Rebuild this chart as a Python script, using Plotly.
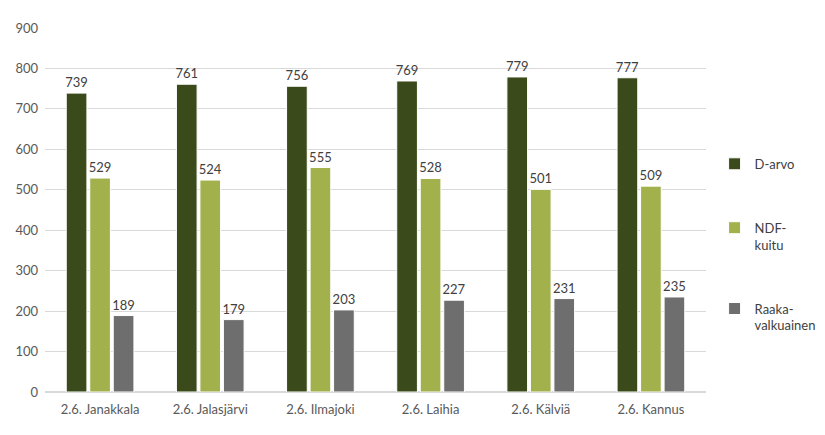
import plotly.graph_objects as go

categories = ["2.6. Janakkala", "2.6. Jalasjärvi", "2.6. Ilmajoki", "2.6. Laihia", "2.6. Kälviä", "2.6. Kannus"]
d_arvo = [739, 761, 756, 769, 779, 777]
ndf_kuitu = [529, 524, 555, 528, 501, 509]
raakavalkuainen = [189, 179, 203, 227, 231, 235]
series_names = ["D-arvo", "NDF-<br>kuitu", "Raaka-<br>valkuainen"]
colors = ["#3B4A1B", "#A3B14D", "#6E6E6E"]

fig = go.Figure()
for i, (name, vals) in enumerate(zip(series_names, [d_arvo, ndf_kuitu, raakavalkuainen])):
    fig.add_trace(go.Bar(
        x=categories, y=vals, name=name,
        marker=dict(color=colors[i], line=dict(color="white", width=1)),
        text=vals, textposition="outside", constraintext="none",
        textfont=dict(size=13, color="#404040"),
        legendgroup=str(i), cliponaxis=False,
    ))

fig.update_layout(
    width=825, height=435,
    margin=dict(l=37, r=119, t=20, b=51),
    paper_bgcolor="white", plot_bgcolor="white",
    font=dict(family="Lato, Open Sans, sans-serif", color="#595959", size=13),
    barmode="group", bargap=0.36, bargroupgap=0.12,
    showlegend=True,
    legend=dict(x=1.013, y=0.668, xanchor="left", yanchor="top", valign="top",
                tracegroupgap=44, font=dict(size=13, color="#404040"),
                itemwidth=30, traceorder="grouped"),
    yaxis=dict(range=[0, 900], dtick=100, showgrid=True, gridcolor="#D9D9D9",
               zeroline=True, zerolinecolor="#D9D9D9", tickfont=dict(size=13, color="#595959"),
               ticks="", automargin=False, ticklabelstandoff=6),
    xaxis=dict(tickfont=dict(size=13, color="#595959"), showline=False, ticks="",
               automargin=False, ticklabelstandoff=8),
)
fig.write_html("out.html")
